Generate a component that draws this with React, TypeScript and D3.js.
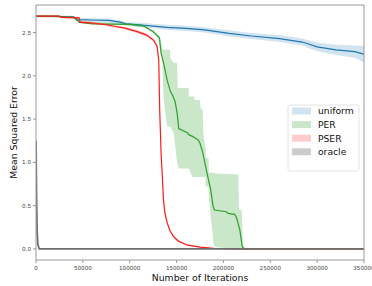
import React from 'react';
import * as d3 from 'd3';

// training curves (iteration -> mean squared error)
const uniformIters = [0, 20000, 40000, 44000, 60000, 78000, 90000, 96000, 110000, 125000, 140000, 160000, 180000, 206000, 230000, 260000, 284000, 290000, 300000, 320000, 340000, 350000];
const uniformMse = [2.685, 2.685, 2.68, 2.65, 2.645, 2.64, 2.62, 2.6, 2.59, 2.575, 2.56, 2.548, 2.53, 2.49, 2.46, 2.43, 2.39, 2.37, 2.335, 2.3, 2.28, 2.25];
const uniformSpread = [0.01, 0.01, 0.015, 0.02, 0.02, 0.02, 0.02, 0.02, 0.025, 0.025, 0.03, 0.03, 0.03, 0.035, 0.035, 0.04, 0.04, 0.045, 0.05, 0.06, 0.07, 0.095];

const perIters = [0, 24000, 26000, 40000, 42000, 46000, 60000, 100000, 115000, 125000, 131700, 133500, 136300, 139900, 143400, 146300, 148500, 150600, 152300, 162000, 163000, 167000, 173000, 175000, 178000, 181000, 184000, 186500, 189000, 190500, 203000, 205000, 212000, 214000, 217500, 220000, 222000, 350000];
const perMse = [2.69, 2.69, 2.68, 2.675, 2.66, 2.62, 2.6, 2.595, 2.575, 2.51, 2.44, 2.26, 2.14, 1.95, 1.82, 1.76, 1.7, 1.57, 1.39, 1.34, 1.32, 1.3, 1.26, 1.22, 1.11, 0.95, 0.8, 0.68, 0.49, 0.45, 0.43, 0.41, 0.4, 0.36, 0.22, 0.03, 0.0, 0.0];

const perBandIters = [0, 40000, 46000, 100000, 115000, 125000, 131000, 133500, 134800, 135800, 137500, 140000, 143000, 143400, 146900, 150600, 151200, 152300, 163000, 163100, 167000, 169000, 169100, 175000, 175500, 178000, 178500, 181000, 181100, 184000, 184500, 189500, 192000, 216000, 216500, 219500, 221000, 225000, 350000];
const perHigh = [2.7, 2.69, 2.63, 2.61, 2.59, 2.53, 2.47, 2.4, 2.3, 2.3, 2.3, 2.3, 2.3, 2.2, 2.15, 2.15, 1.86, 1.86, 1.86, 1.76, 1.76, 1.76, 1.72, 1.72, 1.63, 1.6, 1.34, 1.14, 1.05, 1.05, 0.88, 0.88, 0.87, 0.86, 0.45, 0.45, 0.03, 0.0, 0.0];
const perLow = [2.68, 2.67, 2.61, 2.58, 2.56, 2.5, 2.42, 2.24, 2.2, 1.8, 1.6, 1.41, 1.41, 1.41, 1.34, 0.99, 0.97, 0.93, 0.93, 0.93, 0.83, 0.83, 0.83, 0.83, 0.83, 0.83, 0.83, 0.83, 0.72, 0.72, 0.6, 0.05, 0.02, 0.0, 0.0, 0.0, 0.0, 0.0, 0.0];

const pserIters = [0, 25000, 27000, 46000, 47000, 60000, 75000, 85000, 95000, 108000, 118000, 125600, 129200, 131000, 132000, 133500, 135000, 136000, 137500, 140000, 143000, 147000, 152000, 161000, 175000, 192000, 210000, 350000];
const pserMse = [2.69, 2.69, 2.675, 2.67, 2.62, 2.61, 2.59, 2.57, 2.55, 2.51, 2.47, 2.41, 2.34, 2.18, 1.6, 1.1, 0.8, 0.57, 0.42, 0.3, 0.21, 0.14, 0.09, 0.046, 0.02, 0.005, 0.0, 0.0];
const pserSpread = [0.01, 0.01, 0.01, 0.012, 0.015, 0.015, 0.015, 0.015, 0.015, 0.018, 0.02, 0.02, 0.02, 0.03, 0.03, 0.03, 0.03, 0.025, 0.02, 0.015, 0.012, 0.01, 0.008, 0.006, 0.004, 0.002, 0.0, 0.0];

const oracleIters = [0, 600, 1200, 2000, 3500, 350000];
const oracleMse = [1.25, 0.6, 0.2, 0.05, 0.0, 0.0];

const xTicks = [0, 50000, 100000, 150000, 200000, 250000, 300000, 350000];
const yTicks = [0.0, 0.5, 1.0, 1.5, 2.0, 2.5];
const legendLabels = ['uniform', 'PER', 'PSER', 'oracle'];
const legendFills = ['#d2e4f0', '#cae7ca', '#ffcccc', '#cccccc'];

const W = 372;
const H = 286;
const margin = { top: 5, right: 8, bottom: 26, left: 36 };
const font = 'DejaVu Sans, sans-serif';

export default function App() {
  const x = d3.scaleLinear().domain([0, 350000]).range([margin.left, W - margin.right]);
  const y = d3.scaleLinear().domain([-0.128, 2.818]).range([H - margin.bottom, margin.top]);

  const line = (xs: number[], ys: number[]) =>
    d3.line<number>().x((d) => x(xs[d])).y((d) => y(ys[d]))(d3.range(xs.length)) || '';
  const band = (xs: number[], lo: number[], hi: number[]) =>
    d3.area<number>().x((d) => x(xs[d])).y0((d) => y(lo[d])).y1((d) => y(hi[d]))(d3.range(xs.length)) || '';

  const uLo = uniformMse.map((v, i) => v - uniformSpread[i]);
  const uHi = uniformMse.map((v, i) => v + uniformSpread[i]);
  const pLo = pserMse.map((v, i) => v - pserSpread[i]);
  const pHi = pserMse.map((v, i) => v + pserSpread[i]);

  const [x0, x1] = x.range();
  const [y0, y1] = y.range();

  return (
    <svg width={W} height={H} style={{ position: 'absolute', left: 0, top: 0, background: '#fff' }} fontFamily={font}>
      <defs>
        <clipPath id="plot">
          <rect x={x0} y={y1} width={x1 - x0} height={y0 - y1} />
        </clipPath>
      </defs>
      <g clipPath="url(#plot)">
        <path d={band(uniformIters, uLo, uHi)} fill="#1f77b4" opacity={0.2} />
        <path d={line(uniformIters, uniformMse)} fill="none" stroke="#1f77b4" strokeWidth={1.2} />
        <path d={band(perBandIters, perLow, perHigh)} fill="#2ca02c" opacity={0.25} />
        <path d={line(perIters, perMse)} fill="none" stroke="#2ca02c" strokeWidth={1.2} />
        <path d={band(pserIters, pLo, pHi)} fill="#ff0000" opacity={0.2} />
        <path d={line(pserIters, pserMse)} fill="none" stroke="#ff1a1a" strokeWidth={1.2} />
        <path d={line(oracleIters, oracleMse)} fill="none" stroke="#6f6f6f" strokeWidth={1.8} />
      </g>

      <rect x={x0} y={y1} width={x1 - x0} height={y0 - y1} fill="none" stroke="#999" strokeWidth={1} />

      {xTicks.map((t) => (
        <g key={'x' + t}>
          <line x1={x(t)} x2={x(t)} y1={y0} y2={y0 + 3} stroke="#999" />
          <text x={x(t)} y={y0 + 10} fontSize={5.6} fill="#444" textAnchor="middle">{t}</text>
        </g>
      ))}
      {yTicks.map((t) => (
        <g key={'y' + t}>
          <line x1={x0 - 3} x2={x0} y1={y(t)} y2={y(t)} stroke="#999" />
          <text x={x0 - 5} y={y(t) + 2} fontSize={5.6} fill="#444" textAnchor="end">{t.toFixed(1)}</text>
        </g>
      ))}

      <text x={(x0 + x1) / 2} y={280.5} fontSize={9.3} fill="#111" textAnchor="middle">Number of Iterations</text>
      <text transform={`translate(16.5,${(y0 + y1) / 2}) rotate(-90)`} fontSize={9.3} fill="#111" textAnchor="middle">Mean Squared Error</text>

      <g transform="translate(288,105)">
        <rect x={0} y={0} width={71} height={66} rx={2} fill="#fff" fillOpacity={0.8} stroke="#ddd" strokeWidth={0.8} />
        {legendLabels.map((name, i) => (
          <g key={name} transform={`translate(0,${6 + i * 13.6})`}>
            <rect x={4} y={-3.5} width={19} height={7} fill={legendFills[i]} />
            <text x={30} y={3.3} fontSize={9.2} fill="#111">{name}</text>
          </g>
        ))}
      </g>
    </svg>
  );
}
